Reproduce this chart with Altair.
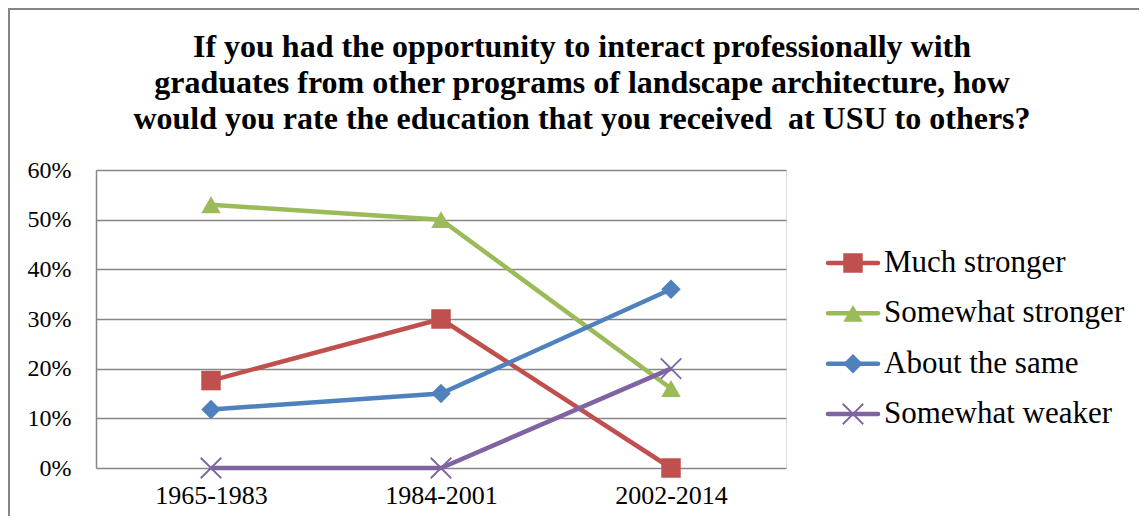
import altair as alt
import pandas as pd

periods = ["1965-1983", "1984-2001", "2002-2014"]
series = ["Much stronger", "Somewhat stronger", "About the same", "Somewhat weaker"]
much_stronger = [0.176, 0.30, 0.0]
somewhat_stronger = [0.53, 0.50, 0.16]
about_same = [0.118, 0.15, 0.36]
somewhat_weaker = [0.0, 0.0, 0.20]
colors = ["#C0504D", "#9BBB59", "#4F81BD", "#8064A2"]
x_path = "M-1,-1L1,1M-1,1L1,-1"
shapes = ["square", "triangle-up", "diamond", x_path]
title_lines = [
    "If you had the opportunity to interact professionally with",
    "graduates from other programs of landscape architecture, how",
    "would you rate the education that you received \u00a0at USU to others?",
]

rows = []
for name, vals in zip(series, [much_stronger, somewhat_stronger, about_same, somewhat_weaker]):
    for p, v in zip(periods, vals):
        rows.append({"period": p, "series": name, "value": v})
df = pd.DataFrame(rows)
legend_df = pd.DataFrame({"series": series, "row": list(range(len(series)))})
one_row = pd.DataFrame({"k": [0]})

FONT = "Times New Roman, Liberation Serif, serif"
color_scale = alt.Scale(domain=series, range=colors)
shape_scale = alt.Scale(domain=series, range=shapes)

x_enc = alt.X("period:N", sort=periods, title=None,
              scale=alt.Scale(paddingInner=0, paddingOuter=0),
              axis=alt.Axis(labelAngle=0, labelFont=FONT, labelFontSize=26, labelColor="#000",
                            labelPadding=14, ticks=False, domain=False, grid=False))
y_enc = alt.Y("value:Q", title=None,
              scale=alt.Scale(domain=[0, 0.6], nice=False),
              axis=alt.Axis(format=".0%", values=[0, 0.1, 0.2, 0.3, 0.4, 0.5, 0.6],
                            labelFont=FONT, labelFontSize=24, labelColor="#000",
                            labelPadding=25, ticks=False, domain=True, domainColor="#868686",
                            domainWidth=1.5, grid=True, gridColor="#868686", gridWidth=1.5))

base = alt.Chart(df)
lines = base.mark_line(strokeWidth=4.5).encode(
    x=x_enc, y=y_enc,
    color=alt.Color("series:N", scale=color_scale, legend=None),
    detail="series:N",
)
pts_filled = base.transform_filter(alt.datum.series != "Somewhat weaker").mark_point(
    filled=True, size=380, opacity=1).encode(
    x=alt.X("period:N", sort=periods), y="value:Q",
    color=alt.Color("series:N", scale=color_scale, legend=None),
    shape=alt.Shape("series:N", scale=shape_scale, legend=None),
)
pts_x = base.transform_filter(alt.datum.series == "Somewhat weaker").mark_point(
    filled=False, size=420, strokeWidth=1.8, opacity=1).encode(
    x=alt.X("period:N", sort=periods), y="value:Q",
    color=alt.Color("series:N", scale=color_scale, legend=None),
    shape=alt.Shape("series:N", scale=shape_scale, legend=None),
)

leg_y = alt.Y("row:Q", scale=alt.Scale(domain=[0, 3], range=[93, 244], nice=False, zero=False),
              axis=None)
leg = alt.Chart(legend_df)
leg_lines = leg.mark_rule(strokeWidth=4.5, strokeCap="round").encode(
    x=alt.value(732), x2=alt.value(782), y=leg_y,
    color=alt.Color("series:N", scale=color_scale, legend=None),
)
leg_pts = leg.transform_filter(alt.datum.series != "Somewhat weaker").mark_point(
    filled=True, size=380, opacity=1).encode(
    x=alt.value(757), y=leg_y,
    color=alt.Color("series:N", scale=color_scale, legend=None),
    shape=alt.Shape("series:N", scale=shape_scale, legend=None),
)
leg_x = leg.transform_filter(alt.datum.series == "Somewhat weaker").mark_point(
    filled=False, size=420, strokeWidth=1.8, opacity=1).encode(
    x=alt.value(757), y=leg_y,
    color=alt.Color("series:N", scale=color_scale, legend=None),
    shape=alt.Shape("series:N", scale=shape_scale, legend=None),
)
leg_text = leg.mark_text(align="left", baseline="middle", font=FONT, fontSize=31, color="#000").encode(
    x=alt.value(788), y=leg_y, text="series:N",
)

title_text = alt.Chart(one_row).mark_text(
    align="center", baseline="alphabetic", font=FONT, fontSize=32, fontWeight="bold",
    color="#000", lineHeight=36).encode(
    x=alt.value(486), y=alt.value(-113), text=alt.value(title_lines))

frame_top = alt.Chart(one_row).mark_rule(color="#868686", strokeWidth=2).encode(
    x=alt.value(-88), x2=alt.value(1080), y=alt.value(-161))
frame_left = alt.Chart(one_row).mark_rule(color="#868686", strokeWidth=2).encode(
    x=alt.value(-87), y=alt.value(-162), y2=alt.value(360))

main = alt.layer(lines, pts_filled, pts_x)
legend_layer = alt.layer(leg_lines, leg_pts, leg_x, leg_text)

chart = alt.layer(main, legend_layer, title_text, frame_top, frame_left).resolve_scale(
    y="independent").properties(
    width=690, height=298,
    autosize=alt.AutoSizeParams(type="none"),
    padding={"left": 88, "top": 162, "right": 353, "bottom": 48},
).configure_view(stroke=None).configure(background="white")

chart.save("out.html", embed_options={"renderer": "svg", "actions": False})
